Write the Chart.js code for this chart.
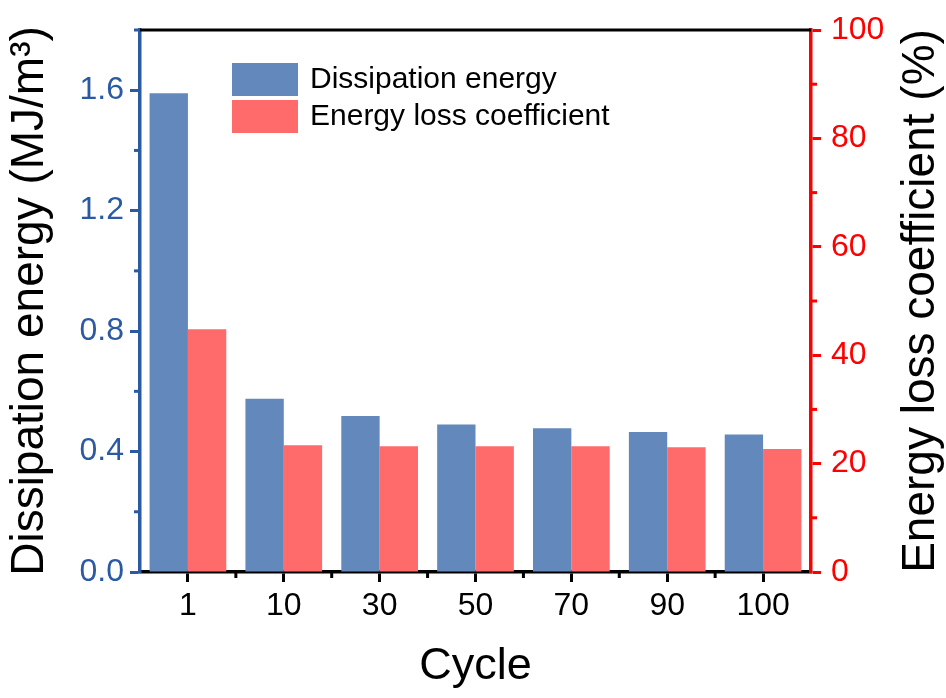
<!DOCTYPE html>
<html>
<head>
<meta charset="utf-8">
<title>Dissipation energy and energy loss coefficient</title>
<script src="https://cdn.jsdelivr.net/npm/chart.js@4.4.1/dist/chart.umd.min.js"></script>
<style>
  html, body { margin: 0; padding: 0; background: #ffffff; }
  #wrap { width: 946px; height: 698px; }
</style>
</head>
<body>
<div id="wrap"><canvas id="energyChart" width="946" height="698"></canvas></div>
<script>
// cycle numbers on the x axis
const cycles = ["1", "10", "30", "50", "70", "90", "100"];

// dissipation energy, MJ/m3 (left axis)
const dissipationEnergy = [1.59, 0.575, 0.518, 0.49, 0.477, 0.465, 0.457];

// energy loss coefficient, % (right axis)
const lossCoefficient = [44.8, 23.4, 23.2, 23.2, 23.2, 23.0, 22.7];

// axis ticks
const leftTicks = [0.0, 0.4, 0.8, 1.2, 1.6];
const rightTicks = [0, 20, 40, 60, 80, 100];

const blueBar = "#6388bb";
const redBar = "#ff6b6b";
const blueAxis = "#2b5aa3";
const redAxis = "#ff0000";
const FONT = "'Liberation Sans', Arial, sans-serif";

/* minor ticks, top frame line, legend and the right-hand title */
const extras = {
  id: "extras",
  afterDraw(chart) {
    const ctx = chart.ctx;
    const area = chart.chartArea;
    const x = chart.scales.x, y = chart.scales.y, y1 = chart.scales.y1;
    ctx.save();

    // top frame line
    ctx.strokeStyle = "#000";
    ctx.lineWidth = 3;
    ctx.beginPath();
    ctx.moveTo(area.left, area.top);
    ctx.lineTo(area.right, area.top);
    ctx.stroke();

    // left minor ticks
    ctx.strokeStyle = blueAxis;
    for (let v = 0.2; v < 1.8; v += 0.4) {
      const py = y.getPixelForValue(v);
      ctx.beginPath();
      ctx.moveTo(area.left, py);
      ctx.lineTo(area.left - 6, py);
      ctx.stroke();
    }

    // right minor ticks
    ctx.strokeStyle = redAxis;
    for (let v = 10; v < 100; v += 20) {
      const py = y1.getPixelForValue(v);
      ctx.beginPath();
      ctx.moveTo(area.right, py);
      ctx.lineTo(area.right + 6, py);
      ctx.stroke();
    }

    // bottom minor ticks between categories
    ctx.strokeStyle = "#000";
    for (let i = 0; i < cycles.length - 1; i++) {
      const px = (x.getPixelForValue(i) + x.getPixelForValue(i + 1)) / 2;
      ctx.beginPath();
      ctx.moveTo(px, area.bottom);
      ctx.lineTo(px, area.bottom + 6);
      ctx.stroke();
    }

    // legend inside the plot
    ctx.font = "30px " + FONT;
    ctx.textBaseline = "middle";
    ctx.textAlign = "left";
    chart.data.datasets.forEach((ds, i) => {
      const top = 63 + i * 37;
      ctx.fillStyle = ds.backgroundColor;
      ctx.fillRect(232, top, 66, 33);
      ctx.fillStyle = "#000";
      ctx.fillText(ds.label, 310, top + 17);
    });

    // right axis title, reading bottom to top
    ctx.translate(921, (area.top + area.bottom) / 2);
    ctx.rotate(-Math.PI / 2);
    ctx.textAlign = "center";
    ctx.font = "46px " + FONT;
    ctx.fillStyle = "#000";
    ctx.fillText("Energy loss coefficient (%)", 0, 0);

    ctx.restore();
  }
};

new Chart(document.getElementById("energyChart"), {
  type: "bar",
  data: {
    labels: cycles,
    datasets: [
      {
        label: "Dissipation energy",
        data: dissipationEnergy,
        backgroundColor: blueBar,
        yAxisID: "y",
        categoryPercentage: 0.8,
        barPercentage: 1.0
      },
      {
        label: "Energy loss coefficient",
        data: lossCoefficient,
        backgroundColor: redBar,
        yAxisID: "y1",
        categoryPercentage: 0.8,
        barPercentage: 1.0
      }
    ]
  },
  options: {
    responsive: false,
    animation: false,
    layout: { padding: { top: 30, left: 0, right: 0, bottom: 0 } },
    plugins: {
      legend: { display: false },
      tooltip: { enabled: false }
    },
    scales: {
      x: {
        grid: {
          offset: false,
          drawOnChartArea: false,
          drawTicks: true,
          tickLength: 10,
          tickWidth: 3,
          tickColor: "#000"
        },
        border: { color: "#000", width: 3.5 },
        ticks: { color: "#000", font: { family: FONT, size: 32 }, padding: 5 },
        title: {
          display: true,
          text: "Cycle",
          color: "#000",
          font: { family: FONT, size: 45 },
          padding: { top: 0, bottom: 4 }
        },
        afterFit(scale) { scale.height = 126; }
      },
      y: {
        position: "left",
        min: 0,
        max: 1.8,
        afterBuildTicks(scale) { scale.ticks = leftTicks.map(v => ({ value: v })); },
        grid: {
          drawOnChartArea: false,
          tickLength: 10,
          tickWidth: 3,
          tickColor: blueAxis
        },
        border: { color: blueAxis, width: 3.5 },
        ticks: {
          color: blueAxis,
          font: { family: FONT, size: 32 },
          padding: 6,
          callback: v => v.toFixed(1)
        },
        title: {
          display: true,
          text: "Dissipation energy (MJ/m³)",
          color: "#000",
          font: { family: FONT, size: 46 },
          padding: { top: 3, bottom: 0 }
        },
        afterFit(scale) { scale.width = 140; }
      },
      y1: {
        position: "right",
        min: 0,
        max: 100,
        afterBuildTicks(scale) { scale.ticks = rightTicks.map(v => ({ value: v })); },
        grid: {
          drawOnChartArea: false,
          tickLength: 10,
          tickWidth: 3,
          tickColor: redAxis
        },
        border: { color: redAxis, width: 3.5 },
        ticks: {
          color: redAxis,
          font: { family: FONT, size: 32 },
          padding: 10
        },
        title: { display: false },
        afterFit(scale) { scale.width = 135; }
      }
    }
  },
  plugins: [extras]
});
</script>
</body>
</html>
